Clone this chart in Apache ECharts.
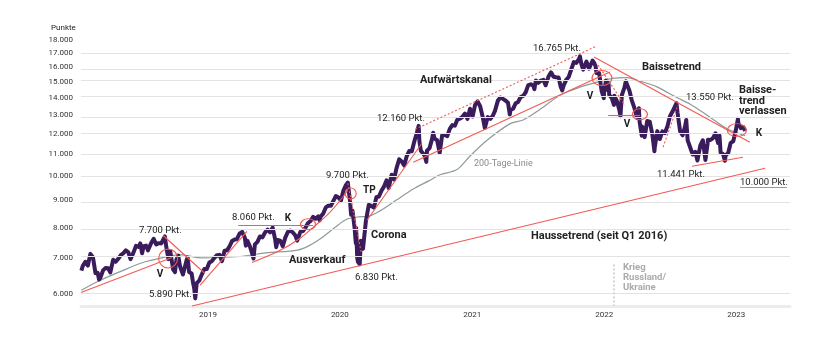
<!DOCTYPE html>
<html><head><meta charset="utf-8">
<script src="https://cdn.jsdelivr.net/npm/echarts@6/dist/echarts.min.js"></script>
<style>html,body{margin:0;padding:0;background:#fff}#c{width:840px;height:341px}</style>
</head><body><div id="c"></div>
<script>
// ---- Data (Nasdaq-100 style index, points) ----
const ndx2018 = [["2018-02-12",6640],["2018-02-16",6780],["2018-02-23",6900],["2018-03-02",6790],["2018-03-09",7140],["2018-03-12",7190],["2018-03-16",7040],["2018-03-23",6570],["2018-03-29",6580],["2018-04-02",6390],["2018-04-06",6450],["2018-04-13",6650],["2018-04-20",6720],["2018-04-27",6710],["2018-05-03",6590],["2018-05-11",6960],["2018-05-18",6900],["2018-05-25",6990],["2018-06-01",7100],["2018-06-08",7160],["2018-06-15",7250],["2018-06-22",7190],["2018-06-28",6980],["2018-07-06",7180],["2018-07-13",7390],["2018-07-20",7360],["2018-07-25",7470],["2018-07-30",7160],["2018-08-03",7380],["2018-08-10",7400],["2018-08-15",7250],["2018-08-24",7480],["2018-08-31",7620],["2018-09-07",7440],["2018-09-14",7480],["2018-09-21",7470],["2018-09-28",7630],["2018-10-01",7700],["2018-10-05",7350],["2018-10-11",6980],["2018-10-16",7220],["2018-10-19",7000],["2018-10-24",6670],["2018-10-29",6600],["2018-11-02",6970],["2018-11-07",7090],["2018-11-12",6760],["2018-11-16",6770],["2018-11-20",6530],["2018-11-23",6520],["2018-11-30",6950],["2018-12-03",7030],["2018-12-07",6600],["2018-12-14",6560],["2018-12-18",6300],["2018-12-21",6160],["2018-12-24",5890],["2018-12-28",6290]];
const ndx2019 = [["2019-01-04",6360],["2019-01-11",6530],["2019-01-18",6690],["2019-01-25",6690],["2019-02-01",6880],["2019-02-08",6920],["2019-02-15",7020],["2019-02-22",7100],["2019-03-01",7110],["2019-03-08",6920],["2019-03-15",7240],["2019-03-22",7250],["2019-03-29",7380],["2019-04-05",7550],["2019-04-12",7600],["2019-04-18",7610],["2019-04-26",7800],["2019-05-03",7850],["2019-05-10",7660],["2019-05-13",7400],["2019-05-17",7560],["2019-05-24",7380],["2019-05-31",7130],["2019-06-03",7000],["2019-06-07",7440],["2019-06-14",7520],["2019-06-21",7700],["2019-06-28",7670],["2019-07-05",7830],["2019-07-12",7930],["2019-07-19",7840],["2019-07-26",8000],["2019-08-02",7600],["2019-08-05",7350],["2019-08-09",7580],["2019-08-16",7560],["2019-08-23",7380],["2019-08-30",7660],["2019-09-06",7850],["2019-09-13",7900],["2019-09-20",7830],["2019-09-27",7730],["2019-10-02",7560],["2019-10-11",7860],["2019-10-18",7880],["2019-10-25",8000],["2019-11-01",8160],["2019-11-08",8230],["2019-11-15",8380],["2019-11-22",8310],["2019-11-29",8400],["2019-12-03",8250],["2019-12-06",8400],["2019-12-13",8500],["2019-12-20",8730],["2019-12-27",8790]];
const ndx2020 = [["2020-01-03",8790],["2020-01-10",8980],["2020-01-17",9170],["2020-01-24",9110],["2020-01-31",8990],["2020-02-07",9400],["2020-02-14",9620],["2020-02-19",9718],["2020-02-21",9450],["2020-02-25",8990],["2020-02-28",8460],["2020-03-03",8600],["2020-03-06",8530],["2020-03-09",7950],["2020-03-12",7480],["2020-03-13",7990],["2020-03-16",7020],["2020-03-18",6900],["2020-03-20",6880],["2020-03-23",6830],["2020-03-26",7560],["2020-03-27",7500],["2020-04-01",7300],["2020-04-03",7530],["2020-04-09",8230],["2020-04-17",8830],["2020-04-24",8780],["2020-05-01",8720],["2020-05-08",9120],["2020-05-15",9150],["2020-05-22",9380],["2020-05-29",9550],["2020-06-05",9810],["2020-06-11",9490],["2020-06-19",10050],["2020-06-26",9850],["2020-07-02",10300],["2020-07-10",10750],["2020-07-17",10650],["2020-07-24",10460],["2020-07-31",10900],["2020-08-07",11140],["2020-08-14",11130],["2020-08-21",11620],["2020-08-28",12050],["2020-09-02",12420],["2020-09-04",11620],["2020-09-08",11150],["2020-09-11",11090],["2020-09-18",10940],["2020-09-23",10630],["2020-09-25",11160],["2020-10-02",11280],["2020-10-09",11740],["2020-10-12",12050],["2020-10-16",11750],["2020-10-23",11670],["2020-10-30",11050],["2020-11-06",11940],["2020-11-13",11940],["2020-11-20",11880],["2020-11-27",12260],["2020-12-04",12460],["2020-12-11",12430],["2020-12-18",12760],["2020-12-24",12800],["2020-12-31",12890]];
const ndx2021 = [["2021-01-08",13100],["2021-01-15",12800],["2021-01-22",13370],["2021-01-29",12930],["2021-02-05",13600],["2021-02-12",13800],["2021-02-19",13520],["2021-02-26",12910],["2021-03-04",12300],["2021-03-08",12300],["2021-03-12",12900],["2021-03-19",12800],["2021-03-26",12970],["2021-04-01",13250],["2021-04-09",13850],["2021-04-16",14040],["2021-04-23",13960],["2021-04-30",13860],["2021-05-07",13720],["2021-05-12",13050],["2021-05-14",13300],["2021-05-21",13370],["2021-05-28",13690],["2021-06-04",13770],["2021-06-11",14070],["2021-06-18",14140],["2021-06-25",14360],["2021-07-02",14810],["2021-07-09",14860],["2021-07-16",14770],["2021-07-19",14550],["2021-07-23",15110],["2021-07-30",14960],["2021-08-06",15100],["2021-08-13",15150],["2021-08-19",14800],["2021-08-27",15370],["2021-09-03",15650],["2021-09-10",15360],["2021-09-17",15320],["2021-09-24",15310],["2021-09-30",14690],["2021-10-04",14470],["2021-10-08",14790],["2021-10-15",15150],["2021-10-22",15340],["2021-10-29",15850],["2021-11-05",16360],["2021-11-12",16300],["2021-11-19",16570],["2021-11-22",16765],["2021-11-26",16220],["2021-12-01",15830],["2021-12-03",15980],["2021-12-10",16400],["2021-12-17",15900],["2021-12-20",15800],["2021-12-27",16470],["2021-12-31",16320]];
const ndx2022 = [["2022-01-04",16100],["2022-01-07",15600],["2022-01-14",15610],["2022-01-21",14440],["2022-01-27",14000],["2022-01-28",14440],["2022-02-02",15100],["2022-02-04",14520],["2022-02-09",14950],["2022-02-11",14200],["2022-02-18",14000],["2022-02-24",13600],["2022-02-25",14150],["2022-03-04",13840],["2022-03-11",13300],["2022-03-14",12950],["2022-03-18",14190],["2022-03-25",14650],["2022-03-29",15060],["2022-04-01",14860],["2022-04-08",14450],["2022-04-14",13900],["2022-04-22",13390],["2022-04-29",12850],["2022-05-04",13400],["2022-05-06",12640],["2022-05-12",11900],["2022-05-13",12390],["2022-05-20",11830],["2022-05-27",12680],["2022-06-03",12650],["2022-06-10",12000],["2022-06-16",11130],["2022-06-17",11330],["2022-06-24",12140],["2022-07-01",11730],["2022-07-08",12130],["2022-07-15",12040],["2022-07-22",12400],["2022-07-29",12950],["2022-08-05",13210],["2022-08-16",13700],["2022-08-19",13140],["2022-08-26",12140],["2022-09-02",11920],["2022-09-09",12410],["2022-09-12",12740],["2022-09-16",11660],["2022-09-23",11310],["2022-09-30",10970],["2022-10-07",11100],["2022-10-13",10690],["2022-10-14",10790],["2022-10-21",11410],["2022-10-28",11670],["2022-11-04",10710],["2022-11-10",11500],["2022-11-11",11700],["2022-11-18",11680],["2022-11-25",11780],["2022-12-02",12030],["2022-12-09",11530],["2022-12-13",11900],["2022-12-16",11070],["2022-12-23",10990],["2022-12-28",10680],["2022-12-30",10940]];
const ndx2023 = [["2023-01-06",11040],["2023-01-13",11540],["2023-01-20",11620],["2023-01-27",12170],["2023-02-02",12800],["2023-02-03",12580],["2023-02-10",12300],["2023-02-17",12350],["2023-02-22",12150]];

const ma200 = [["2018-02-12",6100],["2018-04-01",6350],["2018-06-01",6620],["2018-08-01",6880],["2018-10-01",7040],["2018-11-12",7120],["2019-01-06",7020],["2019-04-27",7060],["2019-07-07",7170],["2019-10-03",7260],["2019-11-04",7400],["2019-12-12",7680],["2020-01-14",8000],["2020-02-17",8300],["2020-03-20",8380],["2020-04-12",8390],["2020-05-18",8600],["2020-07-01",9000],["2020-08-18",9450],["2020-10-01",9800],["2020-10-31",10050],["2020-12-17",10280],["2021-01-22",10900],["2021-03-10",11670],["2021-05-13",12540],["2021-06-18",12740],["2021-08-01",13300],["2021-09-28",14180],["2021-11-22",14680],["2022-01-08",15000],["2022-02-20",15250],["2022-04-01",15300],["2022-05-10",15050],["2022-06-23",14700],["2022-08-18",14020],["2022-09-23",13640],["2022-11-09",13000],["2023-01-03",12260],["2023-02-22",11900]];

const yTicks = [6000,7000,8000,9000,10000,11000,12000,13000,14000,15000,16000,17000,18000];
const yearLabels = [["2019-01-28","2019"],["2020-01-28","2020"],["2021-01-28","2021"],["2022-01-28","2022"],["2023-01-28","2023"]];

// Trend annotations (data coordinates)
const trendSolid = [
  [["2018-02-11",6045],["2018-10-21",7030]],
  [["2018-09-26",7730],["2019-01-20",6560]],
  [["2019-01-06",6230],["2019-05-16",7870]],
  [["2018-12-15",5700],["2023-04-18",10340]],
  [["2019-04-22",8080],["2019-11-15",8080]],
  [["2020-04-12",8257],["2020-09-11",11520]],
  [["2020-08-18",10610],["2022-02-13",15670]],
  [["2021-12-31",16730],["2023-03-07",11570]],
  [["2022-02-08",13010],["2022-05-07",13010]],
  [["2022-09-28",10430],["2023-02-16",10840]]
];
const trendDashed = [
  [["2020-02-19",9690],["2020-03-27",7190]],
  [["2020-08-23",12240],["2022-01-08",17540]],
  [["2022-01-11",16160],["2022-03-26",13580]],
  [["2022-07-10",11330],["2022-08-20",13580]]
];
const sellOffCurve = [["2019-05-30",6880],["2019-08-16",7250],["2019-10-10",7640],["2019-11-15",8010],["2020-01-01",8550],["2020-02-19",9400]];
const circles = [["2018-10-10",7000,19,19],["2019-11-01",8115,15,11],["2020-02-27",9270,11,11],["2022-01-22",15270,20,15],["2022-05-07",13060,15,11],["2023-01-30",12190,19,13]];
const warDate = "2022-02-24";

// ---- helpers ----
const L = v => Math.log10(v);
const T = d => Date.parse(d + 'T00:00:00Z');
const fmt = n => String(n).replace(/\B(?=(\d{3})+(?!\d))/g, '.');
const toPts = arr => arr.map(([d, v]) => [T(d), L(v)]);
const yearOf = {};
yearLabels.forEach(([d, y]) => { yearOf[T(d)] = y; });
const RED = '#f25a52';
const price = toPts([].concat(ndx2018, ndx2019, ndx2020, ndx2021, ndx2022, ndx2023));
const FONT = 'Roboto, "Noto Sans", sans-serif';

const txt = (x, y, text, o = {}) => ({
  type: 'text', x, y, z: 100,
  style: { text, fill: o.fill || '#222', font: `${o.w || 'normal'} ${o.s || 9.5}px ${FONT}`, align: o.a || 'left', verticalAlign: 'middle' }
});

const chart = echarts.init(document.getElementById('c'), null, { renderer: 'canvas' });
chart.setOption({
  animation: false,
  grid: { left: 81, right: 50, top: 40, bottom: 35 },
  xAxis: {
    type: 'value', min: T('2018-02-11'), max: T('2023-06-26'),
    axisLine: { show: true, lineStyle: { color: '#ececec', width: 3 } },
    axisTick: { show: false }, splitLine: { show: false },
    axisLabel: {
      customValues: yearLabels.map(d => T(d[0])),
      formatter: v => yearOf[v] || '',
      color: '#333', fontSize: 8, fontFamily: FONT, margin: 5
    }
  },
  yAxis: {
    type: 'value', min: L(5700), max: L(18000),
    axisLine: { show: false }, axisTick: { show: false, customValues: yTicks.map(L) },
    splitLine: { show: false },
    axisLabel: {
      customValues: yTicks.map(L),
      formatter: v => fmt(Math.round(Math.pow(10, v) / 1000) * 1000),
      color: '#333', fontSize: 8, fontFamily: FONT, margin: 8
    }
  },
  series: [
    { type: 'line', data: [], z: 0, silent: true,
      markLine: { silent: true, symbol: 'none', label: { show: false },
        lineStyle: { color: '#e3e3e3', width: 1, type: 'solid' },
        data: yTicks.map(v => ({ yAxis: L(v) })) } },
    { type: 'line', data: toPts(ma200), showSymbol: false, smooth: 0.3, z: 2,
      lineStyle: { color: '#8e9b9a', width: 1.2 } },
    { type: 'line', data: price, showSymbol: false, z: 3,
      lineStyle: { color: '#3a1c5c', width: 4, join: 'round' } },
    { type: 'line', data: toPts(sellOffCurve), showSymbol: false, smooth: 0.4, z: 5,
      lineStyle: { color: RED, width: 1.1 } },
    { type: 'line', data: [], z: 6, silent: true,
      markLine: { silent: true, symbol: 'none', label: { show: false },
        data: [].concat(
          trendSolid.map(s => [{ coord: [T(s[0][0]), L(s[0][1])], lineStyle: { color: RED, width: 1.1, type: 'solid' } }, { coord: [T(s[1][0]), L(s[1][1])] }]),
          trendDashed.map(s => [{ coord: [T(s[0][0]), L(s[0][1])], lineStyle: { color: RED, width: 1.1, type: [2, 2] } }, { coord: [T(s[1][0]), L(s[1][1])] }]),
          [[{ coord: [T(warDate), L(6823)], lineStyle: { color: '#d4d4d4', width: 2, type: [2, 2] } }, { coord: [T(warDate), L(5700)] }]]
        ) },
      markPoint: { silent: true, label: { show: false },
        data: circles.map(c => ({ coord: [T(c[0]), L(c[1])], symbol: 'circle', symbolSize: [c[2], c[3]],
          itemStyle: { color: 'rgba(0,0,0,0)', borderColor: RED, borderWidth: 1.1 } })) } }
  ],
  graphic: [
    txt(51, 28, 'Punkte', { s: 8 }),
    txt(139, 231, '7.700 Pkt.'),
    txt(160, 274, 'V', { w: 'bold', s: 10, a: 'center' }),
    txt(149, 295, '5.890 Pkt.'),
    txt(232, 218, '8.060 Pkt.'),
    txt(288, 218, 'K', { w: 'bold', s: 10, a: 'center' }),
    txt(289, 260, 'Ausverkauf', { w: 'bold', s: 11 }),
    txt(326, 176, '9.700 Pkt.'),
    txt(363, 190, 'TP', { w: 'bold', s: 10 }),
    txt(371, 235, 'Corona', { w: 'bold', s: 11 }),
    txt(355, 278, '6.830 Pkt.'),
    txt(531, 236, 'Haussetrend (seit Q1 2016)', { w: 'bold', s: 11 }),
    txt(377, 119, '12.160 Pkt.'),
    txt(420, 80, 'Aufwärtskanal', { w: 'bold', s: 11 }),
    txt(474, 164, '200-Tage-Linie', { s: 9, fill: '#8a8a8a' }),
    txt(533, 49, '16.765 Pkt.'),
    txt(590, 96, 'V', { w: 'bold', s: 10, a: 'center' }),
    txt(642, 67, 'Baissetrend', { w: 'bold', s: 11 }),
    txt(627, 124, 'V', { w: 'bold', s: 10, a: 'center' }),
    txt(686, 98, '13.550 Pkt.'),
    { type: 'text', x: 739, y: 85, z: 100, style: { text: 'Baisse-\ntrend\nverlassen', fill: '#222', font: `bold 11px ${FONT}`, align: 'left', verticalAlign: 'top', lineHeight: 10.5 } },
    txt(759, 133, 'K', { w: 'bold', s: 10, a: 'center' }),
    txt(657, 175, '11.441 Pkt.'),
    txt(740, 183, '10.000 Pkt.'),
    { type: 'line', z: 100, shape: { x1: 740, y1: 187.5, x2: 787, y2: 187.5 }, style: { stroke: '#555', lineWidth: 0.6 } },
    { type: 'text', x: 623, y: 263, z: 100, style: { text: 'Krieg\nRussland/\nUkraine', fill: '#ababab', font: `bold 9.5px ${FONT}`, align: 'left', verticalAlign: 'top', lineHeight: 10 } }
  ]
});
</script></body></html>
